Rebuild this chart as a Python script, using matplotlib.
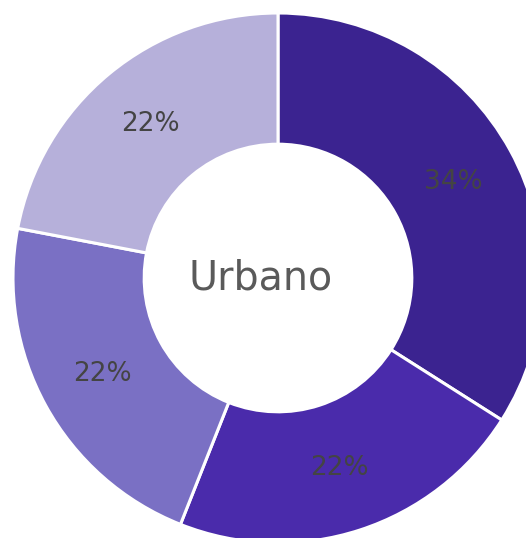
import numpy as np
import matplotlib
matplotlib.use('Agg')
import matplotlib.pyplot as plt

# slices, clockwise from the top
labels = ['A', 'B', 'C', 'D']
values = [34, 22, 22, 22]
colors = ['#3b2390', '#4a2bab', '#7a70c4', '#b6b0da']
center_text = 'Urbano'

fig = plt.figure(figsize=(5.26, 5.38), dpi=100)
W, H = 526, 538
cx, cy, r = 278, 278, 265
ax = fig.add_axes([(cx - r) / W, (H - cy - r) / H, 2 * r / W, 2 * r / H])
ax.axis('off')

wedges, texts = ax.pie(values, colors=colors, startangle=90, counterclock=False,
                       radius=1, wedgeprops=dict(width=0.495, edgecolor='white', linewidth=2.2),
                       labels=[f'{v}%' for v in values], labeldistance=0.755,
                       textprops=dict(fontsize=19, color='#444444', family='DejaVu Sans',
                                      ha='center', va='center'))
ax.set_xlim(-1, 1)
ax.set_ylim(-1, 1)
ax.set_aspect('auto')

# centre label sits a little left of the hole's centre
ax.text(-0.064, 0, center_text, ha='center', va='center', fontsize=28.5,
        color='#5a5a5a', family='DejaVu Sans')

fig.savefig('out.png', dpi=100)
